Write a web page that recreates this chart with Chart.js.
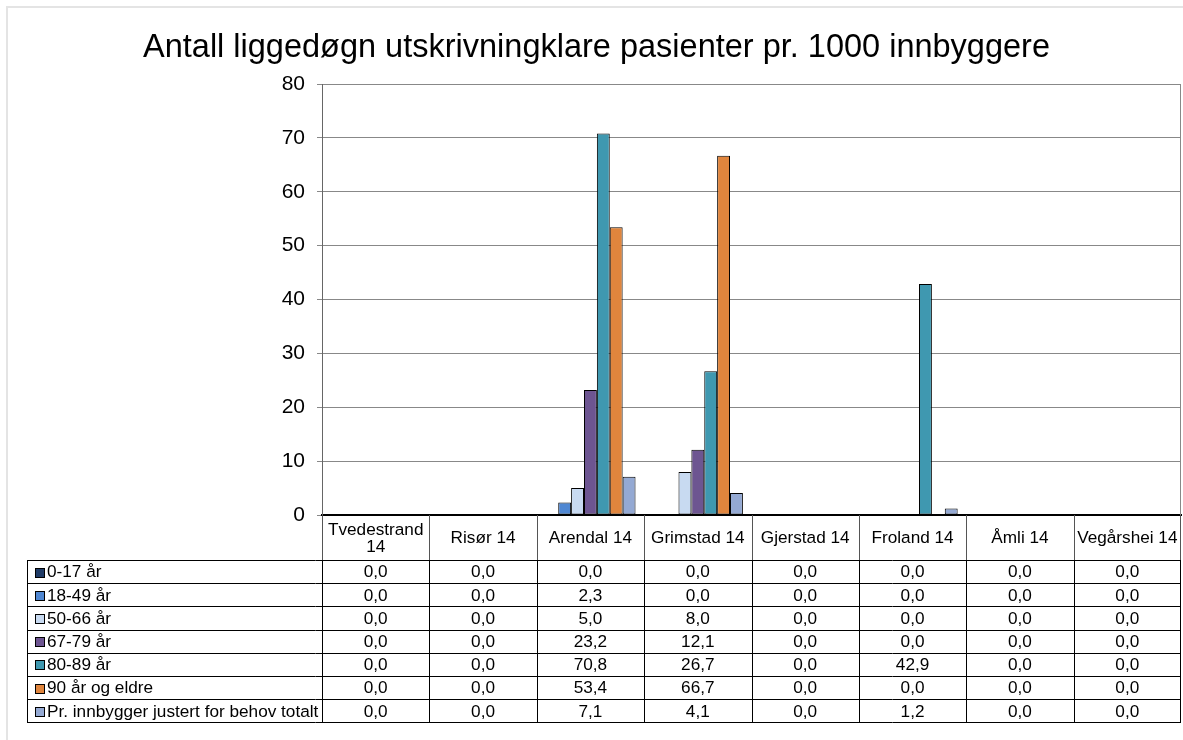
<!DOCTYPE html>
<html lang="no">
<head>
<meta charset="utf-8">
<title>Liggedøgn utskrivningklare pasienter</title>
<script src="https://cdn.jsdelivr.net/npm/chart.js@4.4.1/dist/chart.umd.min.js"></script>
<style>
  html, body { margin: 0; padding: 0; background: #fff; }
  #wrap { width: 1183px; height: 740px; }
</style>
</head>
<body>
<div id="wrap"><canvas id="chart" width="1183" height="740"></canvas></div>
<script>
// --- data ---
const kommuner = ["Tvedestrand 14", "Risør 14", "Arendal 14", "Grimstad 14",
                  "Gjerstad 14", "Froland 14", "Åmli 14", "Vegårshei 14"];

const alder0_17   = [0, 0, 0,    0,    0, 0,    0, 0];
const alder18_49  = [0, 0, 2.3,  0,    0, 0,    0, 0];
const alder50_66  = [0, 0, 5.0,  8.0,  0, 0,    0, 0];
const alder67_79  = [0, 0, 23.2, 12.1, 0, 0,    0, 0];
const alder80_89  = [0, 0, 70.8, 26.7, 0, 42.9, 0, 0];
const alder90     = [0, 0, 53.4, 66.7, 0, 0,    0, 0];
const justertTot  = [0, 0, 7.1,  4.1,  0, 1.2,  0, 0];

const serieNavn = ["0-17 år", "18-49 år", "50-66 år", "67-79 år", "80-89 år",
                   "90 år og eldre", "Pr. innbygger justert for behov totalt"];
const serieData = [alder0_17, alder18_49, alder50_66, alder67_79, alder80_89, alder90, justertTot];
const serieFarge = ["#1f3b66", "#4f87d2", "#c8daf1", "#6d5591", "#3f98b0", "#e0853d", "#94a9d3"];

const yTicks = [0, 10, 20, 30, 40, 50, 60, 70, 80];

const FONT = "'Liberation Sans', Arial, sans-serif";
Chart.defaults.font.family = FONT;
Chart.defaults.color = "#000";

const fmt = (v) => v.toFixed(1).replace(".", ",");

// datatabell under grafen (som i Excel)
const tabellPlugin = {
  id: "tabell",
  beforeDraw(chart) {
    const { ctx } = chart;
    ctx.save();
    ctx.strokeStyle = "#e4e4e4";
    ctx.lineWidth = 2;
    ctx.beginPath();
    ctx.moveTo(7, 740); ctx.lineTo(7, 7); ctx.lineTo(1183, 7);
    ctx.stroke();
    ctx.restore();
  },
  afterDraw(chart) {
    const { ctx, chartArea: a } = chart;
    const colW = (a.right - a.left) / kommuner.length;
    const left = 27, top = a.bottom, headH = 45, rowH = 23.2;
    const bottom = top + headH + serieNavn.length * rowH;
    const line = (x1, y1, x2, y2) => { ctx.beginPath(); ctx.moveTo(x1, y1); ctx.lineTo(x2, y2); ctx.stroke(); };

    ctx.save();
    // høyre kant av plottområdet
    ctx.strokeStyle = "#888";
    ctx.lineWidth = 1;
    line(a.right - 0.5, a.top, a.right - 0.5, a.bottom);

    ctx.strokeStyle = "#000";
    for (let r = 0; r <= serieNavn.length; r++) {
      const y = Math.round(top + headH + r * rowH) + 0.5;
      line(left, y, a.right, y);
    }
    line(left + 0.5, top + headH, left + 0.5, bottom);
    for (let i = 0; i <= kommuner.length; i++) {
      const x = Math.min(Math.round(a.left + i * colW) + 0.5, a.right - 0.5);
      ctx.strokeStyle = "#555";
      line(x, top, x, top + headH);
      ctx.strokeStyle = "#000";
      line(x, top + headH, x, bottom);
    }

    ctx.fillStyle = "#000";
    ctx.font = "17.2px " + FONT;
    ctx.textAlign = "center";
    ctx.textBaseline = "middle";

    // kolonneoverskrifter, brytes hvis for brede
    kommuner.forEach((k, i) => {
      const cx = a.left + (i + 0.5) * colW;
      let linjer = [k];
      if (ctx.measureText(k).width > colW - 4) {
        const ord = k.split(" ");
        linjer = [ord.slice(0, -1).join(" "), ord[ord.length - 1]];
      }
      const cy = top + headH / 2 + 1;
      linjer.forEach((t, j) => ctx.fillText(t, cx, cy + (j - (linjer.length - 1) / 2) * 17));
    });

    serieNavn.forEach((navn, r) => {
      const cy = top + headH + (r + 0.5) * rowH + 1;
      ctx.fillStyle = serieFarge[r];
      ctx.fillRect(35, Math.round(cy - 5), 10, 10);
      ctx.strokeStyle = "#000";
      ctx.strokeRect(35.5, Math.round(cy - 5) + 0.5, 9, 9);
      ctx.fillStyle = "#000";
      ctx.textAlign = "left";
      ctx.fillText(navn, 47, cy);
      ctx.textAlign = "center";
      serieData[r].forEach((v, i) => {
        ctx.fillText(fmt(v), a.left + (i + 0.5) * colW, cy);
      });
    });
    ctx.restore();
  },
};

new Chart(document.getElementById("chart"), {
  type: "bar",
  data: {
    labels: kommuner,
    datasets: serieNavn.map((navn, i) => ({
      label: navn,
      data: serieData[i],
      backgroundColor: serieFarge[i],
      borderColor: "#000",
      borderWidth: 1,
      borderSkipped: false,
      categoryPercentage: 0.84,
      barPercentage: 1.0,
    })),
  },
  options: {
    responsive: false,
    animation: false,
    layout: { padding: { left: 12, right: 2, top: 0, bottom: 0 } },
    plugins: {
      legend: { display: false },
      tooltip: { enabled: false },
      title: {
        display: true,
        text: "Antall liggedøgn utskrivningklare pasienter pr. 1000 innbyggere",
        color: "#000",
        font: { size: 32.5, weight: "normal", family: FONT },
        padding: { top: 29, bottom: 16 },
      },
    },
    scales: {
      x: {
        grid: { display: false },
        border: { display: true, color: "#000", width: 2 },
        ticks: { display: false },
        afterFit: (s) => { s.height = 225; },
      },
      y: {
        min: 0,
        max: 80,
        afterBuildTicks: (s) => { s.ticks = yTicks.map((v) => ({ value: v })); },
        ticks: { color: "#000", font: { size: 21 }, padding: 12 },
        grid: { color: "#888", tickLength: 5 },
        border: { display: true, color: "#666", width: 1 },
        afterFit: (s) => { s.width = 310; },
      },
    },
  },
  plugins: [tabellPlugin],
});
</script>
</body>
</html>
